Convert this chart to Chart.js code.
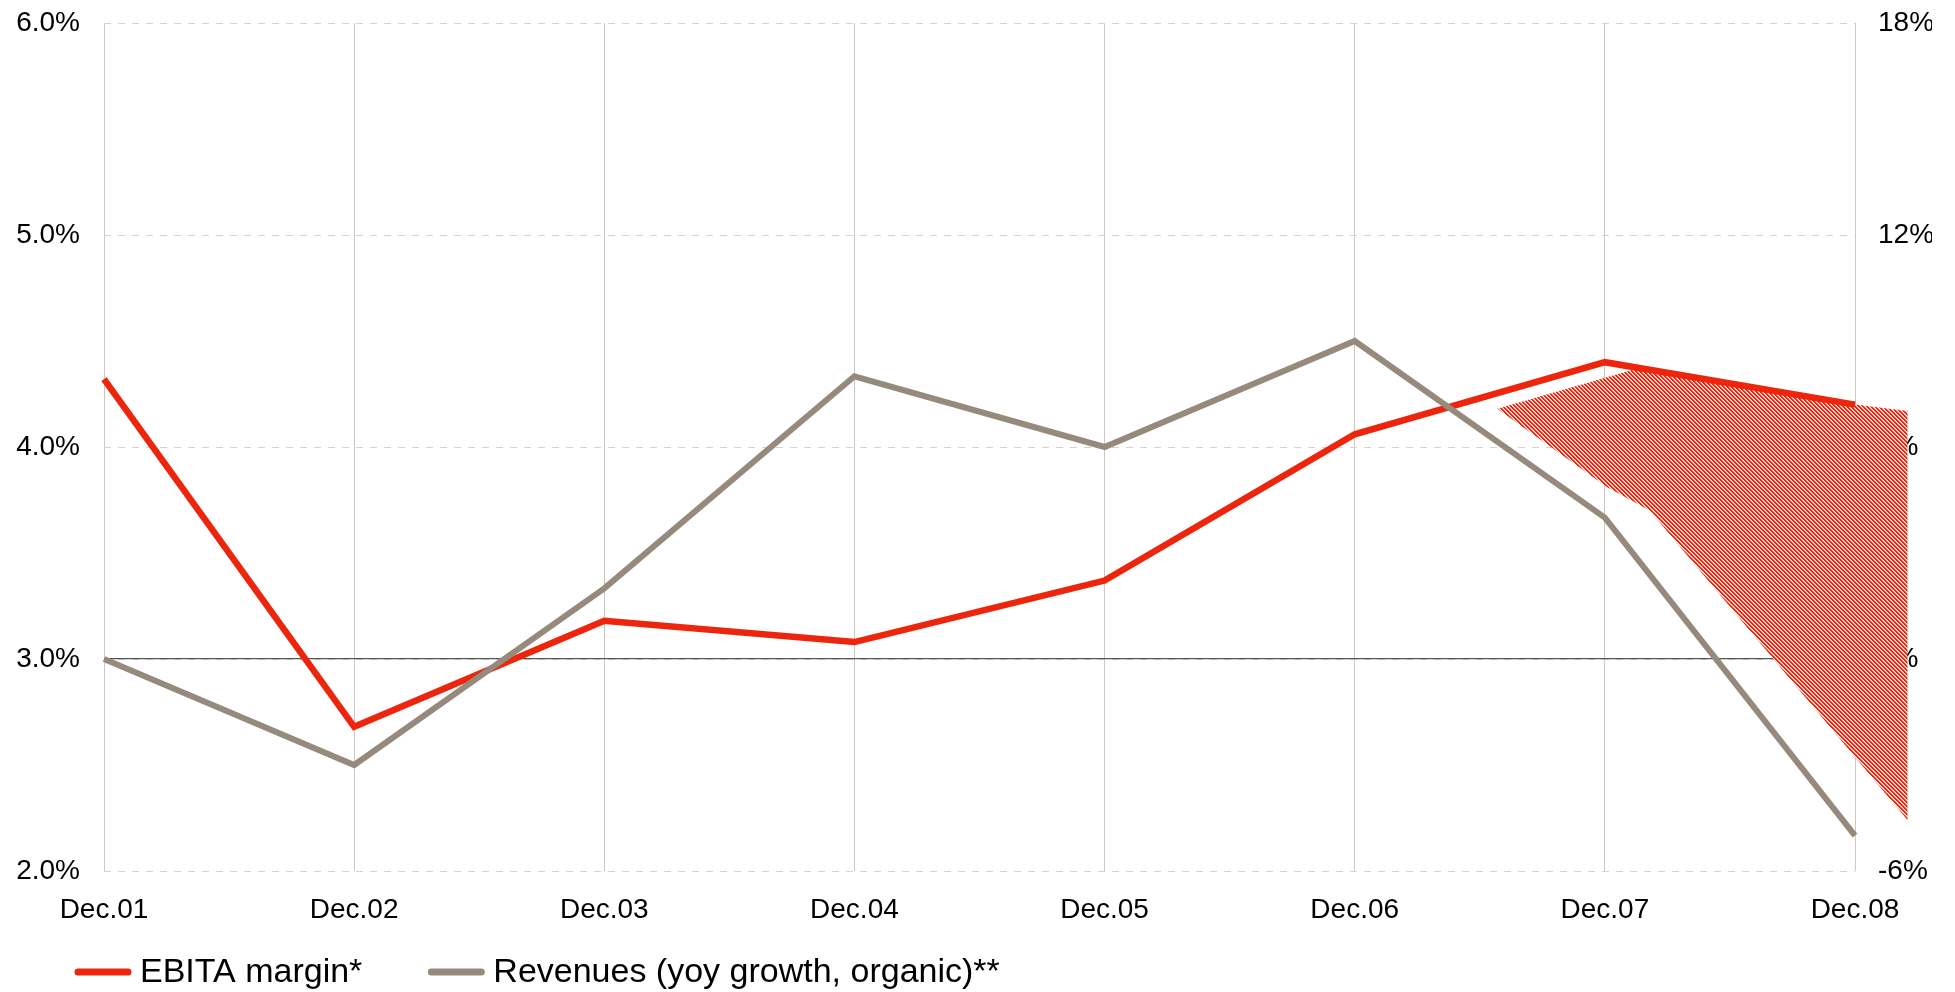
<!DOCTYPE html>
<html>
<head>
<meta charset="utf-8">
<script src="https://cdn.jsdelivr.net/npm/chart.js@4/dist/chart.umd.min.js"></script>
<style>
  html, body { margin: 0; padding: 0; background: #fff; }
  #wrap { width: 1955px; height: 992px; }
</style>
</head>
<body>
<div id="wrap"><canvas id="marginChart"></canvas></div>
<script>
// data
const categories = ['Dec.01', 'Dec.02', 'Dec.03', 'Dec.04', 'Dec.05', 'Dec.06', 'Dec.07', 'Dec.08'];
const ebitaMargin = [4.32, 2.68, 3.18, 3.08, 3.37, 4.06, 4.40, 4.20];   // left axis, %
const revenueGrowth = [0.0, -3.0, 2.0, 8.0, 6.0, 9.0, 4.0, -5.0];       // right axis, %
const leftTicks = [2, 3, 4, 5, 6];
const leftTickLabels = ['2.0%', '3.0%', '4.0%', '5.0%', '6.0%'];
const rightTicks = [-6, 0, 6, 12, 18];
const rightTickLabels = ['-6%', '0%', '6%', '12%', '18%'];
// hatched forecast area (x = category index, y = left axis value)
const hatchX = [5.57, 6.13, 7.0, 7.21, 7.21, 6.18, 6.01];
const hatchY = [4.18, 4.37, 4.20, 4.17, 2.24, 3.70, 3.81];

const RED = '#ec250c';
const GREY = '#968a7d';
const FONT = '"Liberation Sans", Arial, sans-serif';

// 4px diagonal stripes: two red, one pink, one white pixel per row
function stripePattern(ctx) {
  const c = document.createElement('canvas');
  c.width = 4; c.height = 4;
  const p = c.getContext('2d');
  p.fillStyle = '#fff';
  p.fillRect(0, 0, 4, 4);
  for (let r = 0; r < 4; r++) {
    p.fillStyle = RED;
    p.fillRect(r, r, 1, 1);
    p.fillRect((r + 1) % 4, r, 1, 1);
    p.fillStyle = '#f6a89c';
    p.fillRect((r + 2) % 4, r, 1, 1);
  }
  return ctx.createPattern(c, 'repeat');
}

const hatchPlugin = {
  id: 'hatch',
  beforeDatasetsDraw(chart) {
    const { ctx, scales } = chart;
    ctx.save();
    ctx.beginPath();
    hatchX.forEach((x, i) => {
      const px = scales.x.getPixelForValue(x);
      const py = scales.y.getPixelForValue(hatchY[i]);
      if (i === 0) ctx.moveTo(px, py); else ctx.lineTo(px, py);
    });
    ctx.closePath();
    ctx.fillStyle = stripePattern(ctx);
    ctx.fill();
    ctx.restore();
  }
};

const lineLegend = {
  id: 'lineLegend',
  afterDraw(chart) {
    const ctx = chart.ctx;
    const y = 972;
    let x = 78;
    ctx.save();
    ctx.font = '34px ' + FONT;
    ctx.textBaseline = 'middle';
    ctx.textAlign = 'left';
    chart.data.datasets.forEach(ds => {
      ctx.strokeStyle = ds.borderColor;
      ctx.lineWidth = 7;
      ctx.lineCap = 'round';
      ctx.beginPath();
      ctx.moveTo(x, y);
      ctx.lineTo(x + 50, y);
      ctx.stroke();
      ctx.fillStyle = '#000';
      ctx.fillText(ds.label, x + 62, y + 1);
      x += 62 + ctx.measureText(ds.label).width + 69;
    });
    ctx.restore();
  }
};

const noPad = axis => { axis.paddingTop = 0; axis.paddingBottom = 0; axis.paddingLeft = 0; axis.paddingRight = 0; };

const ctx = document.getElementById('marginChart').getContext('2d');
new Chart(ctx, {
  type: 'line',
  data: {
    labels: categories,
    datasets: [{
      label: 'EBITA margin*',
      data: ebitaMargin,
      yAxisID: 'y',
      borderColor: RED,
      borderWidth: 6.5,
      pointRadius: 0,
      tension: 0,
      order: 1
    }, {
      label: 'Revenues (yoy growth, organic)**',
      data: revenueGrowth,
      yAxisID: 'y1',
      borderColor: GREY,
      borderWidth: 6,
      pointRadius: 0,
      tension: 0,
      order: 0
    }]
  },
  options: {
    responsive: true,
    maintainAspectRatio: false,
    animation: false,
    layout: { padding: { left: 15, right: 23, top: 23, bottom: 64 } },
    plugins: {
      legend: { display: false },
      tooltip: { enabled: false }
    },
    scales: {
      x: {
        afterFit: axis => { noPad(axis); axis.height = 57; },
        grid: { color: '#cfc6bc', lineWidth: 1, drawTicks: false },
        border: { display: false },
        ticks: { color: '#000', font: { family: FONT, size: 28 }, padding: 22, maxRotation: 0 }
      },
      y: {
        position: 'left',
        min: 2, max: 6,
        afterBuildTicks: axis => { axis.ticks = leftTicks.map(v => ({ value: v })); },
        afterFit: axis => { noPad(axis); axis.width = 89; },
        grid: { color: '#d9d2ca', lineWidth: 1, drawTicks: false },
        border: { display: false, dash: [7, 7] },
        ticks: {
          color: '#000', font: { family: FONT, size: 28 }, padding: 24,
          callback: v => leftTickLabels[leftTicks.indexOf(v)]
        }
      },
      y1: {
        position: 'right',
        min: -6, max: 18,
        afterBuildTicks: axis => { axis.ticks = rightTicks.map(v => ({ value: v })); },
        afterFit: axis => { noPad(axis); axis.width = 77; },
        grid: {
          drawTicks: false,
          color: c => (c.tick && c.tick.value === 0) ? '#555555' : 'rgba(0,0,0,0)',
          lineWidth: 1.2
        },
        border: { display: false },
        ticks: {
          color: '#000', font: { family: FONT, size: 28 }, padding: 23,
          callback: v => rightTickLabels[rightTicks.indexOf(v)]
        }
      }
    }
  },
  plugins: [hatchPlugin, lineLegend]
});
</script>
</body>
</html>
